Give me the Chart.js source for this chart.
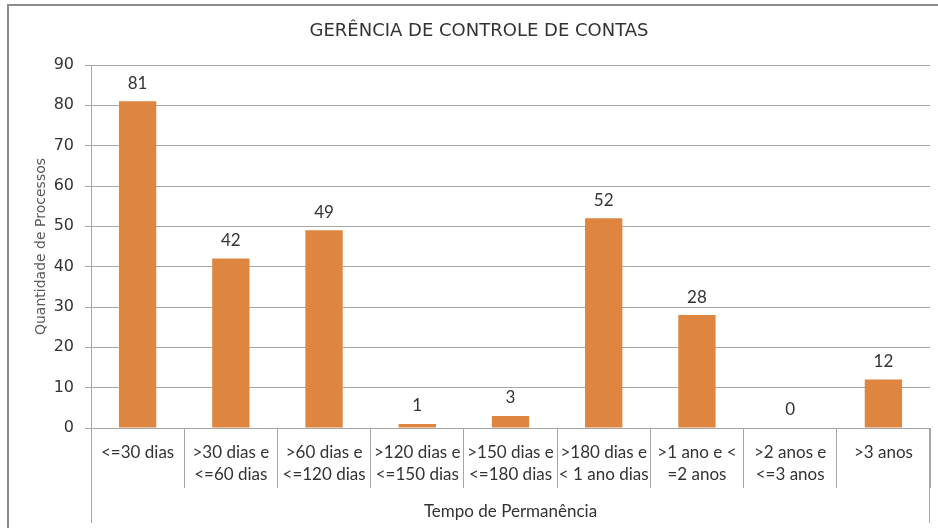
<!DOCTYPE html>
<html>
<head>
<meta charset="utf-8">
<script src="https://cdn.jsdelivr.net/npm/chart.js@4.4.1/dist/chart.umd.min.js"></script>
<style>
  html, body { margin: 0; padding: 0; background: #fff; }
  #wrap { width: 938px; height: 528px; }
</style>
</head>
<body>
<div id="wrap"><canvas id="chart" width="938" height="528"></canvas></div>
<script>
const chartTitle = "GERÊNCIA DE CONTROLE DE CONTAS";
const xAxisTitle = "Tempo de Permanência";
const yAxisTitle = "Quantidade de Processos";
const categories = [
  ["<=30 dias"],
  [">30 dias e", "<=60 dias"],
  [">60 dias e", "<=120 dias"],
  [">120 dias e", "<=150 dias"],
  [">150 dias e", "<=180 dias"],
  [">180 dias e", "< 1 ano dias"],
  [">1 ano e <", "=2 anos"],
  [">2 anos e", "<=3 anos"],
  [">3 anos"]
];
const quantities = [81, 42, 49, 1, 3, 52, 28, 0, 12];
const yMin = 0, yMax = 90, yStep = 10;

const lineGray = "#a6a6a6";
const textGray = "#333333";

// title, frame, long outer dividers and value labels
const extras = {
  id: "extras",
  afterDraw(chart) {
    const ctx = chart.ctx;
    const area = chart.chartArea;
    ctx.save();
    // title
    ctx.fillStyle = textGray;
    ctx.font = "18px 'DejaVu Sans'";
    ctx.textAlign = "center";
    ctx.textBaseline = "middle";
    ctx.fillText(chartTitle, 479, 31);
    // outer frame (top + left only visible)
    ctx.strokeStyle = "#8c8c8c";
    ctx.lineWidth = 2;
    ctx.beginPath();
    ctx.moveTo(938, 5);
    ctx.lineTo(8, 5);
    ctx.lineTo(8, 528);
    ctx.stroke();
    // left & right dividers reaching the axis title row
    ctx.strokeStyle = lineGray;
    ctx.lineWidth = 1;
    ctx.beginPath();
    ctx.moveTo(Math.round(area.left) + 0.5, area.bottom);
    ctx.lineTo(Math.round(area.left) + 0.5, 523);
    ctx.moveTo(Math.round(area.right) - 0.5, area.bottom);
    ctx.lineTo(Math.round(area.right) - 0.5, 523);
    ctx.stroke();
    // value labels
    ctx.font = "17px Lato";
    const meta = chart.getDatasetMeta(0);
    meta.data.forEach((bar, i) => {
      ctx.fillText(String(quantities[i]), bar.x, bar.y - 18);
    });
    ctx.restore();
  }
};

new Chart(document.getElementById("chart"), {
  type: "bar",
  data: {
    labels: categories,
    datasets: [{
      data: quantities,
      backgroundColor: "#de8540",
      barPercentage: 0.4,
      categoryPercentage: 1.0
    }]
  },
  options: {
    responsive: false,
    animation: false,
    layout: { padding: { left: 0, right: 8, top: 65, bottom: 0 } },
    plugins: {
      legend: { display: false },
      tooltip: { enabled: false },
      title: { display: false }
    },
    scales: {
      x: {
        offset: true,
        grid: { offset: true, drawOnChartArea: false, drawTicks: true, tickLength: 60, color: lineGray },
        border: { display: true, color: lineGray },
        ticks: {
          color: textGray,
          font: { family: "Lato", size: 17, lineHeight: 1.3 },
          padding: -47,
          maxRotation: 0,
          autoSkip: false
        },
        title: {
          display: true,
          text: xAxisTitle,
          color: textGray,
          font: { family: "Lato", size: 17 },
          padding: { top: 0, bottom: 6 }
        },
        afterFit(scale) { scale.height = 100; }
      },
      y: {
        min: yMin,
        max: yMax,
        grid: { color: lineGray, tickLength: 6 },
        border: { display: true, color: lineGray },
        ticks: {
          stepSize: yStep,
          color: textGray,
          font: { family: "DejaVu Sans", size: 16 },
          padding: 11
        },
        title: {
          display: true,
          text: yAxisTitle,
          color: "#595959",
          font: { family: "DejaVu Sans", size: 14 },
          padding: { top: 33, bottom: 0 }
        },
        afterFit(scale) { scale.width = 91; }
      }
    }
  },
  plugins: [extras]
});
</script>
</body>
</html>
